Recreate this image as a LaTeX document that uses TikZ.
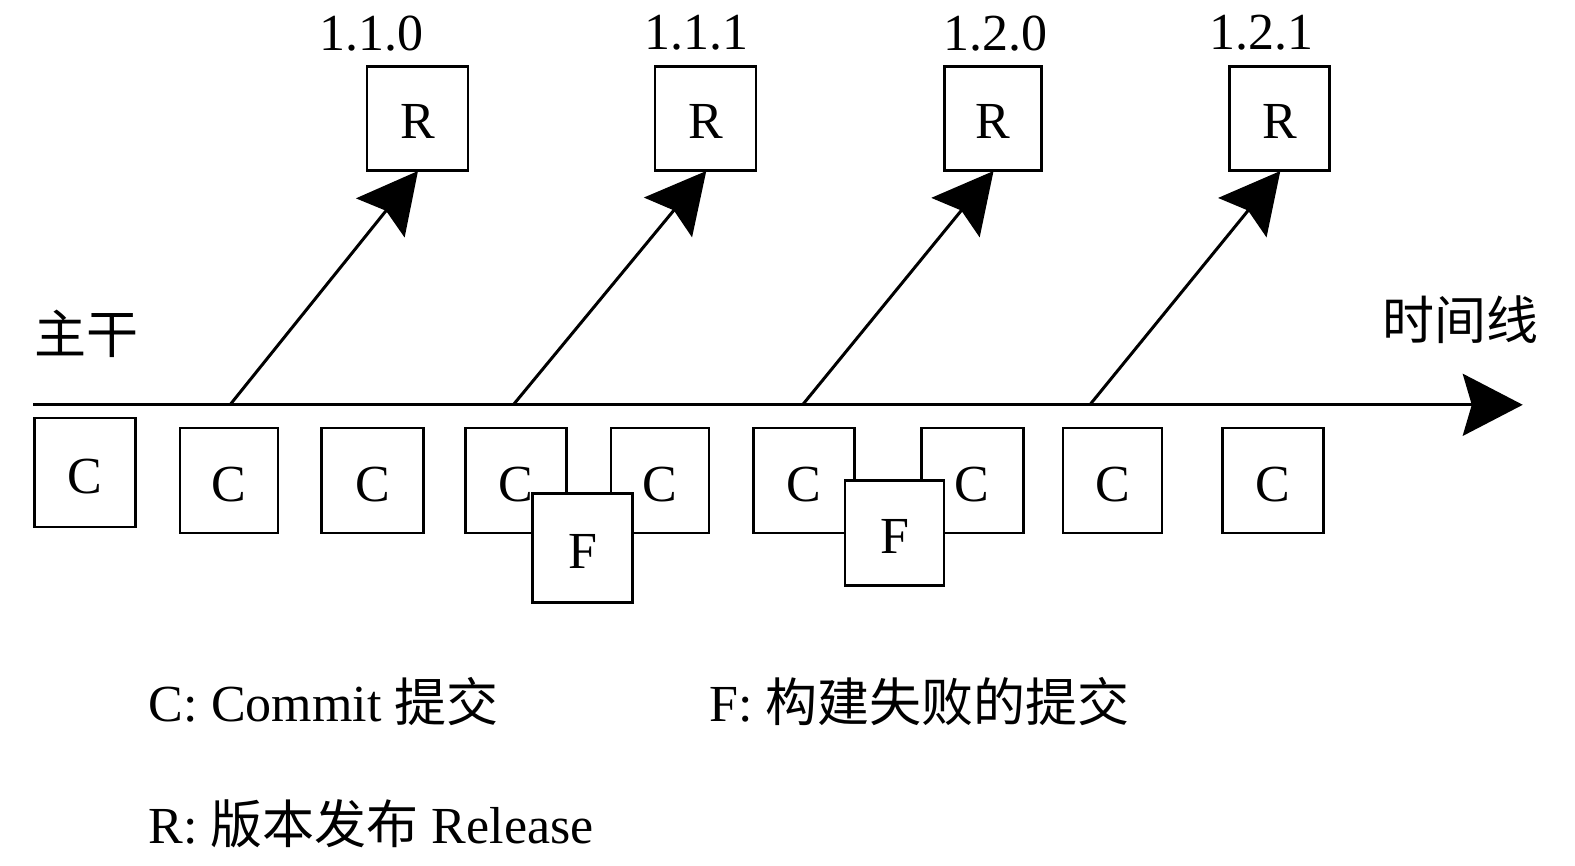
\documentclass[tikz,border=0pt]{standalone}
\usepackage{fontspec}
\setmainfont{Liberation Serif}
\newfontfamily\cjk{Noto Sans CJK SC}
\usetikzlibrary{arrows.meta}
\begin{document}
\begin{tikzpicture}[x=1.0045pt,y=-1.0045pt,
  every node/.style={font=\fontsize{52}{60}\selectfont},
  cbox/.style={draw, line width=2.5pt, fill=white, inner sep=0pt, text height=42pt, text depth=0pt, minimum width=100pt, minimum height=105pt},
  rbox/.style={cbox, minimum height=104pt, text height=40pt},
  fbox/.style={cbox, minimum height=108pt},
  line/.style={line width=3pt},
  bigtip/.style={-{Stealth[length=60pt,width=62pt,inset=9pt]}},
]
\useasboundingbox (0,0) rectangle (1568,862);
% timeline
\coordinate (t0) at (33,403);
\coordinate (t1) at (1516,403);
\draw[line, bigtip] (t0) -- (t1);
% release boxes
\node[rbox, minimum width=101pt] (r1) at (415.5,118) {R};
\node[rbox, minimum width=101pt] (r2) at (702.5,118) {R};
\node[rbox, minimum width=97pt] (r3) at (988.5,118) {R};
\node[rbox, minimum width=100pt] (r4) at (1274,118) {R};
\node (v1) at (370,33) {1.1.0};
\node (v2) at (693,33) {1.1.1};
\node (v3) at (991,33) {1.2.0};
\node (v4) at (1256,33) {1.2.1};
% branch points
\coordinate (b1) at (229,403);
\coordinate (b2) at (511,403);
\coordinate (b3) at (799,403);
\coordinate (b4) at (1085,403);
\draw[line, bigtip, shorten >=-1pt] (b1) -- (r1.south);
\draw[line, bigtip, shorten >=-1pt] (b2) -- (r2.south);
\draw[line, bigtip, shorten >=-1pt] (b3) -- (r3.south);
\draw[line, bigtip, shorten >=-1pt] (b4) -- (r4.south);
% commits
\node[cbox, minimum width=101pt, minimum height=109pt] (c1) at (84.5,470.5) {C};
\node[cbox, minimum width=98pt] (c2) at (228,478.5) {C};
\node[cbox, minimum width=102pt] (c3) at (371,478.5) {C};
\node[cbox, minimum width=101pt] (c4) at (513.5,478.5) {C};
\node[cbox, minimum width=98pt] (c5) at (657,478.5) {C};
\node[cbox, minimum width=101pt] (c6) at (800.5,478.5) {C};
\node[cbox, minimum width=102pt] (c7) at (968,478.5) {C};
\node[cbox, minimum width=99pt] (c8) at (1107.5,478.5) {C};
\node[cbox, minimum width=101pt] (c9) at (1267.5,478.5) {C};
% failed commits
\node[fbox, minimum width=100pt, minimum height=109pt] (f1) at (580,545.5) {F};
\node[fbox, minimum width=99pt, minimum height=105pt] (f2) at (890.5,530.5) {F};
% labels
\node (trunk) at (86,332) {\cjk 主干};
\node (time) at (1454,318) {\cjk 时间线};
% legend
\node[anchor=base west, inner sep=0pt] (lc) at (148,718) {C: Commit {\cjk 提交}};
\node[anchor=base west, inner sep=0pt] (lf) at (706,718) {F: {\cjk 构建失败的提交}};
\node[anchor=base west, inner sep=0pt] (lr) at (148,840) {R: {\cjk 版本发布} Release};
\end{tikzpicture}
\end{document}
